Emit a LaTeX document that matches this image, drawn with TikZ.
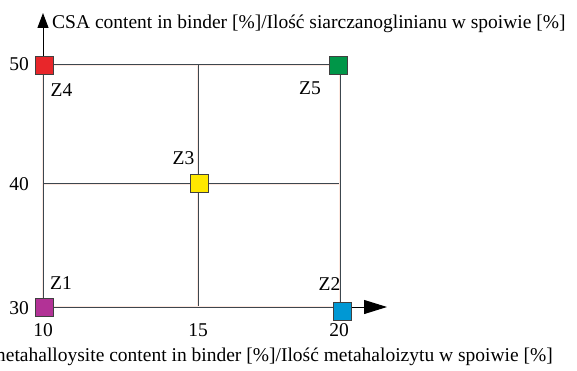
\documentclass[tikz,border=0pt]{standalone}
\usepackage{fontspec}
\setmainfont{Liberation Serif}
\usepackage{tikz}
\usetikzlibrary{arrows.meta,positioning}

\definecolor{gridslate}{RGB}{60,70,78}
\definecolor{gridhalo}{RGB}{253,232,224}
\definecolor{zred}{RGB}{232,38,42}
\definecolor{zgreen}{RGB}{0,150,72}
\definecolor{zyellow}{RGB}{255,232,0}
\definecolor{zpurple}{RGB}{178,50,150}
\definecolor{zblue}{RGB}{0,152,212}

\begin{document}
\begin{tikzpicture}[x=1pt,y=-1pt]
  \tikzset{GridStyle/.style = {draw=gridslate, line width=1pt,
                               preaction={draw=gridhalo, line width=2.6pt}}}
  \tikzset{PointStyle/.style = {shape        = rectangle,
                                draw         = black!75,
                                line width   = 0.8pt,
                                minimum size = 18pt,
                                inner sep    = 0pt}}
  \tikzset{TextStyle/.style = {inner sep=0pt, font=\fontsize{19.5}{22}\selectfont}}
  \useasboundingbox (0,0) rectangle (577,371);
  \begin{scope}[every node/.style={TextStyle}]
	%%% GRID %%%
	\coordinate (orig) at (43,307);
	\coordinate (ytip) at (43,13);
	\coordinate (xtip) at (387,307);
	\coordinate (top15) at (198,65);
	\coordinate (bot15) at (198,307);
	\coordinate (top20) at (340,65);
	\coordinate (bot20) at (340,307);
	\coordinate (left40) at (43,184);
	\coordinate (right40) at (340,184);
	\coordinate (top10) at (43,65);
	\draw[GridStyle](top10) to (top20);
	\draw[GridStyle](left40) to (right40);
	\draw[GridStyle](top15) to (bot15);
	\draw[GridStyle](top20) to (bot20);
	\draw[GridStyle](orig) to (top10);
	\draw[GridStyle](orig) to (bot20);
	%%% AXES %%%
	\draw[line width=1pt, -{Triangle[length=15pt,width=11pt]}](top10) to (ytip);
	\draw[line width=1pt, -{Triangle[length=23pt,width=14pt]}](bot20) to (xtip);
	%%% POINTS %%%
	\node[PointStyle, fill=zpurple](z1) at (44.5,307){};
	\node[PointStyle, fill=zblue](z2) at (342,311){};
	\node[PointStyle, fill=zyellow](z3) at (199,183){};
	\node[PointStyle, fill=zred](z4) at (44,65){};
	\node[PointStyle, fill=zgreen](z5) at (338.5,65.5){};
	\node[above right=8pt and -4pt of z1](lz1){Z1};
	\node[above left=11pt and -8pt of z2](lz2){Z2};
	\node[above left=9pt and -5pt of z3](lz3){Z3};
	\node[below right=9pt and -3pt of z4](lz4){Z4};
	\node[below left=7pt and 8pt of z5](lz5){Z5};
	%%% TICKS %%%
	\node[anchor=east](t50) at (29,64){50};
	\node[anchor=east](t40) at (29,184){40};
	\node[anchor=east](t30) at (29,308){30};
	\node(t10) at (43,330){10};
	\node(t15) at (198,330){15};
	\node(t20) at (339,330){20};
	%%% AXIS TITLES %%%
	\node[anchor=base west](ytitle) at (52,29){CSA content in binder [\%]/Ilość siarczanoglinianu w spoiwie [\%]};
	\node[anchor=base east](xtitle) at (553,361){metahalloysite content in binder [\%]/Ilość metahaloizytu w spoiwie [\%]};
  \end{scope}
\end{tikzpicture}
\end{document}
